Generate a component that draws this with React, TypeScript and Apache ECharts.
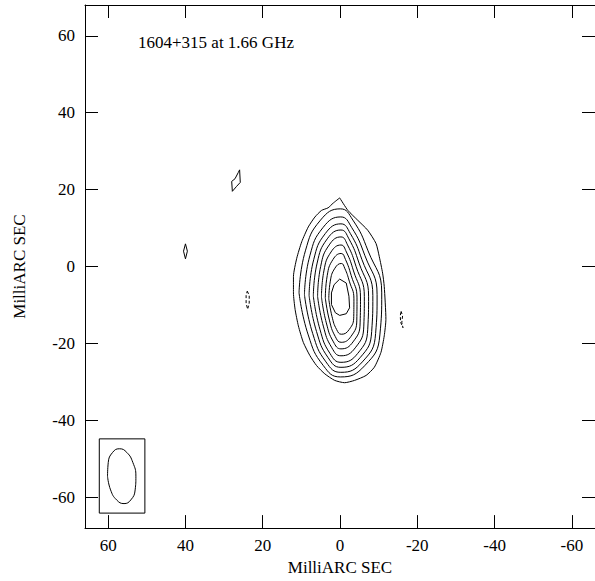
import React, { useEffect, useRef } from "react";
import * as echarts from "echarts";

// Contours of 1604+315 at 1.66 GHz (MilliARC SEC offsets), outermost first
const contour1 = [[0.08,17.85],[-2.05,14.59],[-4.62,12.01],[-7.18,9.44],[-9.32,6.01],[-10.17,2.57],[-11.03,-1.72],[-11.45,-5.15],[-11.88,-13.73],[-11.45,-18.02],[-10.6,-22.31],[-8.89,-26.17],[-6.75,-28.31],[-3.76,-29.6],[-1.2,-30.2],[1.37,-29.6],[3.93,-27.9],[6.07,-25.74],[7.78,-23.17],[9.49,-19.73],[10.77,-15.44],[11.62,-11.15],[12.05,-6.86],[12.05,-2.57],[11.2,2.14],[9.91,6.44],[8.21,10.3],[6.5,12.87],[4.79,14.59],[3.08,15.27],[1.79,16.47],[0.08,17.85]];
const contour2 = [[10.6,-6.85],[8.96,4.08],[5.04,12.07],[-0.1,15.0],[-3.34,12.07],[-7.26,4.08],[-10.8,-6.85],[-10.32,-17.78],[-6.4,-25.77],[-0.1,-28.7],[4.3,-25.77],[8.22,-17.78],[10.6,-6.85]];
const contour3 = [[9.2,-7.3],[7.81,2.8],[4.36,10.19],[-0.2,12.9],[-3.0,10.19],[-6.46,2.8],[-9.6,-7.3],[-9.22,-17.4],[-5.78,-24.79],[-0.2,-27.5],[3.63,-24.79],[7.07,-17.4],[9.2,-7.3]];
const contour4 = [[8.0,-7.55],[6.81,1.78],[3.79,8.6],[-0.25,11.1],[-2.67,8.6],[-5.69,1.78],[-8.5,-7.55],[-8.2,-16.88],[-5.19,-23.7],[-0.25,-26.2],[3.07,-23.7],[6.08,-16.88],[8.0,-7.55]];
const contour5 = [[6.9,-7.7],[5.92,0.9],[3.3,7.2],[-0.25,9.5],[-2.31,7.2],[-4.93,0.9],[-7.4,-7.7],[-7.18,-16.3],[-4.57,-22.6],[-0.25,-24.9],[2.59,-22.6],[5.2,-16.3],[6.9,-7.7]];
const contour6 = [[5.8,-7.75],[5.01,-0.02],[2.79,5.63],[-0.25,7.7],[-1.95,5.63],[-4.17,-0.02],[-6.3,-7.75],[-6.16,-15.48],[-3.95,-21.13],[-0.25,-23.2],[2.11,-21.13],[4.32,-15.48],[5.8,-7.75]];
const contour7 = [[4.8,-7.9],[4.17,-1.15],[2.32,3.79],[-0.25,5.6],[-1.65,3.79],[-3.5,-1.15],[-5.3,-7.9],[-5.21,-14.65],[-3.37,-19.59],[-0.25,-21.4],[1.7,-19.59],[3.54,-14.65],[4.8,-7.9]];
const contour8 = [[3.8,-8.15],[3.31,-2.37],[1.81,1.85],[-0.3,3.4],[-1.41,1.85],[-2.91,-2.37],[-4.4,-8.15],[-4.35,-13.93],[-2.85,-18.15],[-0.3,-19.7],[1.25,-18.15],[2.75,-13.93],[3.8,-8.15]];
const contour9 = [[2.9,-8.4],[2.51,-3.8],[1.32,-0.43],[-0.35,0.8],[-1.22,-0.43],[-2.41,-3.8],[-3.6,-8.4],[-3.56,-13.0],[-2.38,-16.37],[-0.35,-17.6],[0.88,-16.37],[2.06,-13.0],[2.9,-8.4]];
const contour10 = [[0.08,-3.26],[-1.62,-4.29],[-2.31,-7.72],[-2.48,-10.73],[-1.62,-12.27],[0.08,-12.7],[1.2,-12.01],[2.22,-9.87],[2.22,-6.86],[1.54,-4.72],[0.08,-3.26]];

// Small isolated features
const blobNE = [[25.98,25.14],[25.81,21.88],[26.84,20.76],[27.86,19.56],[28.03,22.14],[27.18,22.82],[26.33,24.45],[25.98,25.14]];
const blobE = [[40.0,5.9],[39.5,4.0],[40.0,2.0],[40.5,4.0],[40.0,5.9]];
const negE = [[24.0,-6.4],[23.5,-7.5],[23.5,-9.5],[23.9,-11.1],[24.3,-9.5],[24.3,-7.5],[24.0,-6.4]];
const negW = [[-15.8,-11.6],[-16.2,-12.8],[-16.0,-14.5],[-16.3,-15.9],[-15.7,-14.5],[-15.6,-12.8],[-15.8,-11.6]];

// Restoring beam and its box
const beamEllipse = [[60.17,-54.5],[59.98,-50.93],[58.86,-48.33],[57.1,-47.37],[55.18,-48.33],[53.62,-50.93],[52.83,-54.5],[53.02,-58.07],[54.14,-60.67],[55.9,-61.63],[57.82,-60.67],[59.38,-58.07],[60.17,-54.5]];
const beamBox = [[62.3,-44.8],[50.5,-44.8],[50.5,-64.1],[62.3,-64.1],[62.3,-44.8]];

const xRange = [-66, 66];
const yRange = [-68, 68];
const tickValues = [-60, -40, -20, 0, 20, 40, 60];
const titleText = "1604+315 at 1.66 GHz";
const axisTitle = "MilliARC SEC";

const FONT = '"Liberation Serif", "Times New Roman", serif';

function mk(data: number[][], dashed: boolean, smooth: number | boolean) {
  return {
    type: "line",
    data,
    showSymbol: false,
    symbol: "none",
    smooth,
    silent: true,
    lineStyle: { color: "#000", width: 1, type: dashed ? [3, 2] : "solid" },
  };
}

export default function App() {
  const ref = useRef<HTMLDivElement>(null);
  useEffect(() => {
    if (!ref.current) return;
    const chart = echarts.init(ref.current, null, { renderer: "svg" });
    const tick = { show: true, inside: true, length: 13, customValues: tickValues, lineStyle: { color: "#000", width: 1 } };
    const line = { show: true, onZero: false, lineStyle: { color: "#000", width: 1 } };
    const label = {
      show: true,
      customValues: tickValues,
      fontFamily: FONT,
      fontSize: 17,
      color: "#000",
    };
    const nameStyle = { fontFamily: FONT, fontSize: 17, color: "#000" };
    chart.setOption({
      animation: false,
      backgroundColor: "#fff",
      grid: { left: 85, top: 5, width: 514, height: 529 },
      xAxis: [
        {
          type: "value", min: xRange[0], max: xRange[1], inverse: true, position: "bottom",
          axisLine: line, axisTick: tick, splitLine: { show: false },
          axisLabel: { ...label, margin: 9 },
          name: axisTitle, nameLocation: "middle", nameGap: 28, nameTextStyle: nameStyle,
        },
        {
          type: "value", min: xRange[0], max: xRange[1], inverse: true, position: "top",
          axisLine: line, axisTick: tick, splitLine: { show: false }, axisLabel: { show: false },
        },
      ],
      yAxis: [
        {
          type: "value", min: yRange[0], max: yRange[1], position: "left",
          axisLine: line, axisTick: tick, splitLine: { show: false },
          axisLabel: { ...label, margin: 10 },
          name: axisTitle, nameLocation: "middle", nameGap: 57, nameTextStyle: nameStyle,
        },
        {
          type: "value", min: yRange[0], max: yRange[1], position: "right",
          axisLine: line, axisTick: tick, splitLine: { show: false }, axisLabel: { show: false },
        },
      ],
      graphic: [
        {
          type: "text", left: 138, top: 34,
          style: { text: titleText, font: `17px ${FONT}`, fill: "#000" },
        },
      ],
      series: [
        mk(contour1, false, 0.2),
        mk(contour2, false, 0.5),
        mk(contour3, false, 0.5),
        mk(contour4, false, 0.5),
        mk(contour5, false, 0.5),
        mk(contour6, false, 0.5),
        mk(contour7, false, 0.5),
        mk(contour8, false, 0.5),
        mk(contour9, false, 0.5),
        mk(contour10, false, false),
        mk(blobNE, false, false),
        mk(blobE, false, false),
        mk(negE, true, false),
        mk(negW, true, false),
        mk(beamBox, false, false),
        mk(beamEllipse, false, 0.5),
      ],
    });
    return () => chart.dispose();
  }, []);
  return (
    <div style={{ position: "fixed", left: 0, top: 0, width: 595, height: 581, overflow: "hidden", background: "#fff" }}>
      <div ref={ref} style={{ width: 595, height: 581 }} />
    </div>
  );
}
